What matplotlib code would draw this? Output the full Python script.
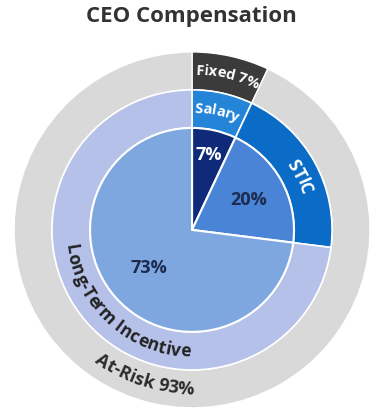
import matplotlib
matplotlib.use("Agg")
import matplotlib.pyplot as plt
from matplotlib.font_manager import FontProperties
import numpy as np

# data
outer_labels = ["Fixed 7%", "At-Risk 93%"]
outer_values = [7, 93]
mid_labels = ["Salary", "STIC", "Long-Term Incentive"]
mid_values = [7, 20, 73]
inner_labels = ["7%", "20%", "73%"]
inner_values = [7, 20, 73]

outer_colors = ["#3b3b3b", "#d9d9d9"]
mid_colors = ["#2484d8", "#0a6cc6", "#b5c1e8"]
inner_colors = ["#0e2a78", "#4a84d6", "#7ea7e0"]

R_OUT, R_MID, R_IN = 1.0, 0.787, 0.573

fig = plt.figure(figsize=(3.7, 4.15), dpi=100)
ax = fig.add_axes([0.038, 0.017, 0.962, 0.858])
ax.set_xlim(-1, 1)
ax.set_ylim(-1, 1)
ax.axis("off")

kw = dict(startangle=90, counterclock=False)
ax.pie(outer_values, radius=R_OUT, colors=outer_colors,
       wedgeprops=dict(width=R_OUT - R_MID, edgecolor="white", linewidth=1), **kw)
ax.pie(mid_values, radius=R_MID, colors=mid_colors,
       wedgeprops=dict(width=R_MID - R_IN, edgecolor="white", linewidth=1.2), **kw)
ax.pie(inner_values, radius=R_IN, colors=inner_colors,
       wedgeprops=dict(edgecolor="white", linewidth=1.5), **kw)
ax.set_xlim(-1, 1)
ax.set_ylim(-1, 1)

fig.text(0.517, 0.96, "CEO Compensation", ha="center", va="center",
         fontsize=16, fontweight="bold", color="#333333", family="Open Sans")

renderer = fig.canvas.get_renderer()
px_per_unit = 356 / 2.0


def curved(text, r, mid_deg, top, size, color):
    # mid_deg: clockwise from 12 o'clock
    fp = FontProperties(family="Open Sans", weight="bold", size=size)
    def w(s):
        if not s:
            return 0.0
        return renderer.get_text_width_height_descent(s.replace(" ", "\u00a0"), fp, ismath=False)[0]
    total = w(text)
    for i, ch in enumerate(text):
        pos = w(text[:i]) + w(ch) / 2 - total / 2
        dang = np.degrees(pos / (r * px_per_unit))
        a = mid_deg + dang if top else mid_deg - dang
        th = np.radians(90 - a)
        x, y = r * np.cos(th), r * np.sin(th)
        rot = -a if top else 180 - a
        ax.text(x, y, ch, rotation=rot, rotation_mode="anchor", ha="center",
                va="center", fontproperties=fp, color=color)


curved(outer_labels[0], 0.895, 13.0, True, 10.5, "white")
curved(mid_labels[0], 0.68, 12.0, True, 10.5, "white")
curved(mid_labels[1], 0.675, 64.0, True, 12.5, "white")
curved(mid_labels[2], 0.685, 222.0, False, 12.5, "#222222")
curved(outer_labels[1], 0.895, 198.0, False, 13, "#2a2a2a")

inner_pos = [(0.43, 12.6), (0.36, 62.0), (0.32, 228.6)]
inner_text_colors = ["white", "#1c2b4e", "#1c2b4e"]
for lab, (r, a), c in zip(inner_labels, inner_pos, inner_text_colors):
    th = np.radians(90 - a)
    ax.text(r * np.cos(th), r * np.sin(th), lab, ha="center", va="center",
            fontsize=13, fontweight="bold", color=c, family="Open Sans")

fig.savefig("out.png", dpi=100)
